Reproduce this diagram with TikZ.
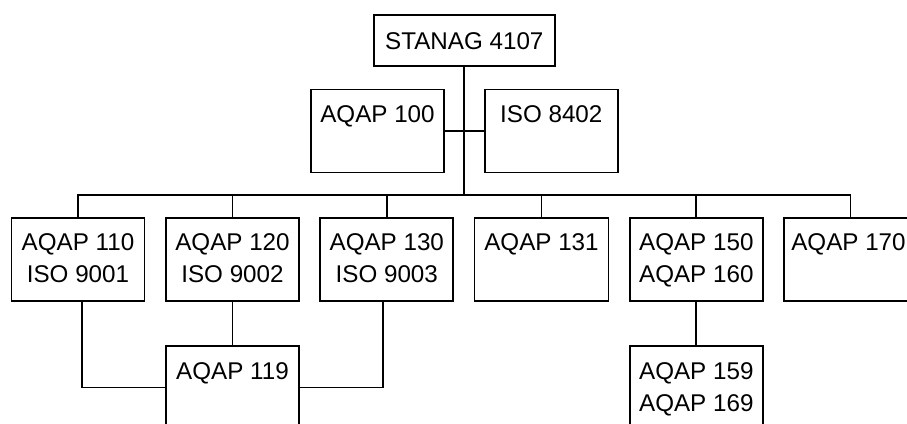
\documentclass[tikz,border=0pt]{standalone}
\usepackage{fontspec}
\setmainfont{Liberation Sans}
\newcommand\bx[4][33pt]{\parbox[c][#3][t]{#2}{\centering\rule{0pt}{#1}#4}}
\tikzset{
  box/.style={draw, line width=1.8pt, inner sep=0pt, fill=white,
    font=\fontsize{24.2}{32}\selectfont},
  link/.style={line width=1.8pt},
}
\begin{document}
\begin{tikzpicture}[x=1pt,y=-1pt]
\path[use as bounding box, fill=white] (0,0) rectangle (907,423);
\clip (0,0) rectangle (907,423);
\coordinate (bus) at (464.3,195);
\node[box] (stanag) at (464.3,40.5) {\bx[34pt]{181.3pt}{51pt}{STANAG 4107}};
\node[box] (a100) at (377.5,131) {\bx{133pt}{83pt}{AQAP 100}};
\node[box] (iso) at (551.3,131) {\bx{133pt}{83pt}{ISO 8402}};
\node[box] (a110) at (78,259.2) {\bx{133pt}{83pt}{AQAP 110\\ISO 9001}};
\node[box] (a120) at (232.5,259.2) {\bx{133pt}{83pt}{AQAP 120\\ISO 9002}};
\node[box] (a130) at (386.8,259.2) {\bx{133pt}{83pt}{AQAP 130\\ISO 9003}};
\node[box] (a131) at (541.5,259.2) {\bx{134pt}{83pt}{AQAP 131}};
\node[box] (a150) at (696.3,259.2) {\bx{133pt}{83pt}{AQAP 150\\AQAP 160}};
\node[box] (a170) at (850.5,259.2) {\bx{133pt}{83pt}{\hspace*{-4pt}AQAP 170}};
\node[box] (a119) at (232.5,387.5) {\bx{133pt}{83pt}{AQAP 119}};
\node[box] (a159) at (696.3,387.5) {\bx{133pt}{83pt}{AQAP 159\\AQAP 169}};
\draw[link] (stanag.south) -- (bus);
\draw[link] (a100.east) -- (iso.west);
\draw[link] (a110.north) -- (a110.north |- bus) -- (a170.north |- bus) -- (a170.north);
\draw[link] (a120.north) -- (a120.north |- bus);
\draw[link] (a130.north) -- (a130.north |- bus);
\draw[link] (a131.north) -- (a131.north |- bus);
\draw[link] (a150.north) -- (a150.north |- bus);
\draw[link] (a120.south) -- (a119.north);
\draw[link] (a150.south) -- (a159.north);
\draw[link] ([xshift=4pt]a110.south) |- (a119.west);
\draw[link] ([xshift=-3.5pt]a130.south) |- (a119.east);
\end{tikzpicture}
\end{document}
